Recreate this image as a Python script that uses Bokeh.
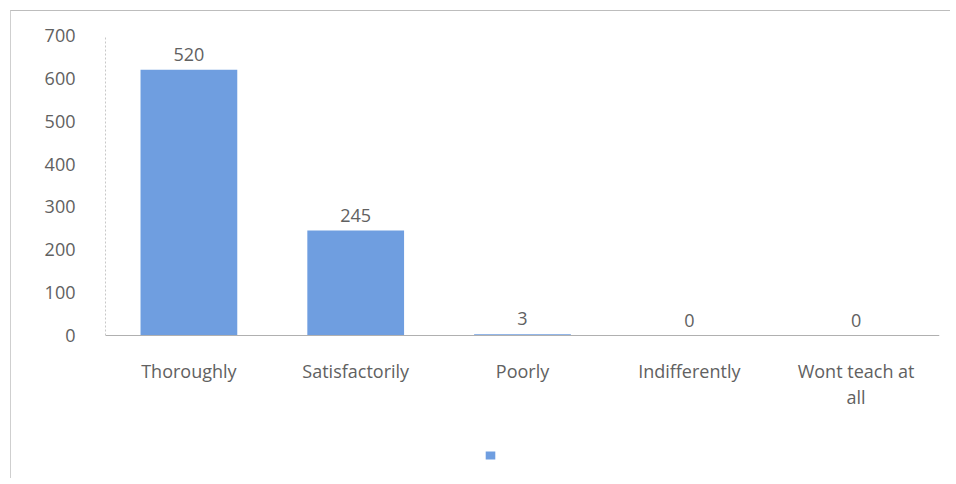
from bokeh.plotting import figure
from bokeh.models import ColumnDataSource, Legend, LegendItem, FixedTicker, Span
from bokeh.core.properties import value
from bokeh.embed import file_html
from bokeh.resources import INLINE

categories = ["Thoroughly", "Satisfactorily", "Poorly", "Indifferently", "Wont teach at\nall"]
counts = [620, 245, 3, 0, 0]
value_labels = ["520", "245", "3", "0", "0"]
y_ticks = [0, 100, 200, 300, 400, 500, 600, 700]

FONT = "Open Sans"
TXT = "#616161"
BAR = "#6f9ee0"

# layout: 300 px for 0..700, frame continues 142 px below zero for labels/legend
Y_TOP = 700
PX_PER_UNIT = 300 / Y_TOP
Y_BOTTOM = -142 / PX_PER_UNIT

src = ColumnDataSource(dict(cat=categories, n=counts, lab=value_labels, base=[0] * len(categories)))

p = figure(x_range=categories, y_range=(Y_BOTTOM, Y_TOP), width=940, height=468,
           output_backend="svg", toolbar_location=None,
           min_border_left=94, min_border_right=12, min_border_top=24, min_border_bottom=2)
p.styles = {"border-top": "1px solid #bdbdbd", "border-left": "1px solid #cfcfcf",
            "margin-top": "10px", "margin-left": "10px"}

r = p.vbar(x="cat", top="n", width=0.58, source=src, fill_color=BAR, line_color=None)
p.text(x="cat", y="n", text="lab", source=src, text_align="center", text_baseline="bottom",
       y_offset=-9, text_font=value(FONT), text_font_size="18px", text_color=TXT)
p.text(x="cat", y="base", text="cat", source=src, text_align="center", text_baseline="top",
       y_offset=23, text_font=value(FONT), text_font_size="18px", text_color=TXT,
       text_line_height=1.12)

p.add_layout(Span(location=0, dimension="width", line_color="#b0b0b0", line_width=1))

p.xgrid.grid_line_color = None
p.ygrid.grid_line_color = None
p.outline_line_color = None
p.xaxis.visible = False

p.yaxis.ticker = FixedTicker(ticks=y_ticks)
p.yaxis.bounds = (0, Y_TOP)
p.yaxis.major_tick_line_color = None
p.yaxis.minor_tick_line_color = None
p.yaxis.axis_line_color = "#c8c8c8"
p.yaxis.axis_line_dash = "2 2"
p.yaxis.major_label_standoff = 24
p.yaxis.major_label_text_font = FONT
p.yaxis.major_label_text_font_size = "18px"
p.yaxis.major_label_text_color = TXT

legend = Legend(items=[LegendItem(label=" ", renderers=[r])], location=(379, 17),
                orientation="horizontal", border_line_color=None, background_fill_alpha=0,
                glyph_width=12, glyph_height=10, label_text_font_size="1px",
                padding=0, margin=0, spacing=0, label_standoff=0)
p.add_layout(legend, "center")

open("out.html", "w").write(file_html(p, INLINE))
